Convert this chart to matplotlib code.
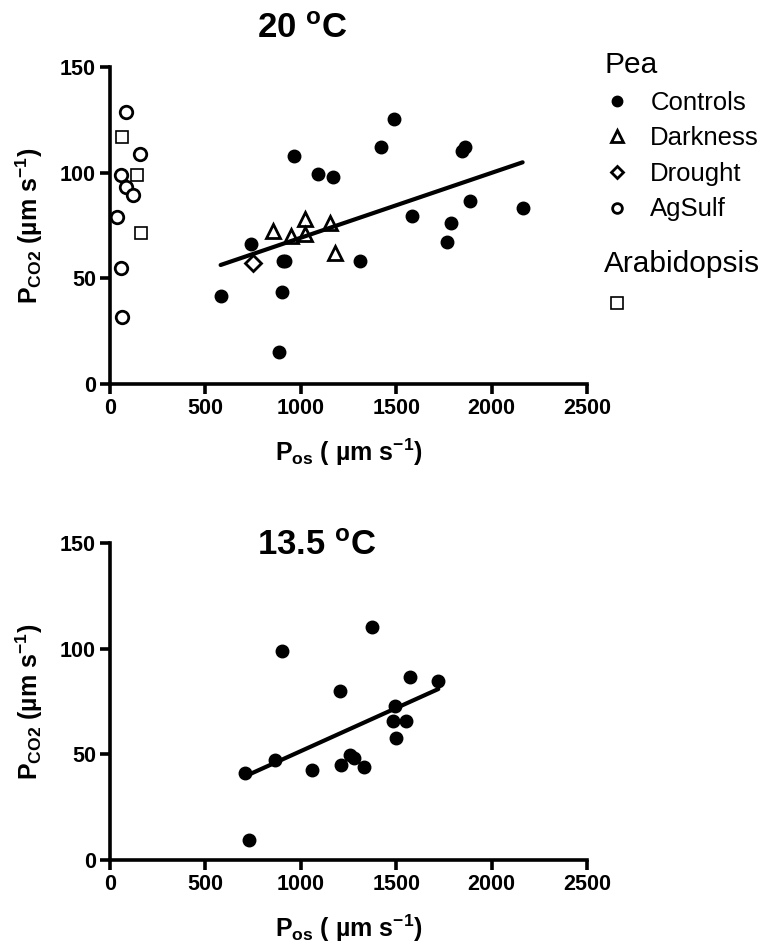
import matplotlib
matplotlib.use("Agg")
import matplotlib.pyplot as plt
from matplotlib.lines import Line2D
import numpy as np

plt.rcParams['font.family'] = ['Liberation Sans', 'DejaVu Sans']
plt.rcParams['mathtext.fontset'] = 'custom'
plt.rcParams['mathtext.rm'] = 'Liberation Sans:bold'
plt.rcParams['mathtext.it'] = 'Liberation Sans:bold'
plt.rcParams['mathtext.bf'] = 'Liberation Sans:bold'
plt.rcParams['mathtext.default'] = 'rm'

# 20 C data
ctrl20_x = [580, 737, 905, 915, 903, 886, 966, 1092, 1170, 1310, 1420, 1490, 1585, 1786, 1765, 1847, 1861, 1887, 2166]
ctrl20_y = [41.6, 66.4, 58.0, 58.4, 43.5, 15.2, 107.7, 99.4, 97.8, 58.2, 112.0, 125.5, 79.7, 76.3, 67.1, 110.4, 112.0, 86.5, 83.3]
dark_x = [856, 947, 1022, 1022, 1153, 1179]
dark_y = [72.3, 70.0, 78.2, 70.8, 76.3, 61.8]
drought_x = [748]
drought_y = [57.1]
agsulf_x = [84, 157, 56, 84, 122, 38, 56, 63]
agsulf_y = [128.9, 108.8, 99.0, 93.3, 89.6, 79.1, 55.0, 31.9]
arab_x = [61, 143, 162]
arab_y = [117.0, 98.7, 71.5]
fit20_x = [580, 2163]
fit20_y = [56.3, 104.9]

# 13.5 C data
ctrl13_x = [708, 729, 865, 900, 1057, 1205, 1211, 1258, 1279, 1333, 1372, 1494, 1485, 1550, 1497, 1572, 1721]
ctrl13_y = [41.4, 9.4, 47.2, 99.1, 42.5, 80.2, 45.1, 49.5, 48.3, 44.0, 110.4, 73.1, 65.6, 65.6, 57.7, 86.5, 84.9]
fit13_x = [708, 1721]
fit13_y = [39.6, 80.9]

xticks = [0, 500, 1000, 1500, 2000, 2500]
yticks = [0, 50, 100, 150]

fig = plt.figure(figsize=(7.68, 9.49), dpi=100)
ax1 = fig.add_axes([0.1432, 0.5954, 0.621, 0.334])
ax2 = fig.add_axes([0.1432, 0.0938, 0.621, 0.334])

def style(ax):
    ax.set_xlim(0, 2500)
    ax.set_ylim(0, 150)
    ax.set_xticks(xticks)
    ax.set_yticks(yticks)
    for s in ['top', 'right']:
        ax.spines[s].set_visible(False)
    for s in ['left', 'bottom']:
        ax.spines[s].set_linewidth(2.6)
    ax.tick_params(width=2.6, length=7, labelsize=15.5, pad=3)
    for lab in ax.get_xticklabels() + ax.get_yticklabels():
        lab.set_fontweight('bold')
    ax.set_xlabel(r"P$_{os}$ ( µm s$^{-1}$)", fontsize=18, fontweight='bold', labelpad=13)
    ax.set_ylabel(r"P$_{CO2}$ (µm s$^{-1}$)", fontsize=18, fontweight='bold', labelpad=11)

ms = 9
ax1.plot(ctrl20_x, ctrl20_y, 'o', color='black', ms=ms, clip_on=False, label='Controls')
ax1.plot(dark_x, dark_y, '^', mfc='white', mec='black', mew=2, ms=10, clip_on=False, label='Darkness')
ax1.plot(drought_x, drought_y, 'D', mfc='white', mec='black', mew=2, ms=8, clip_on=False, label='Drought')
ax1.plot(agsulf_x, agsulf_y, 'o', mfc='white', mec='black', mew=2, ms=ms, clip_on=False, label='AgSulf')
ax1.plot(arab_x, arab_y, 's', mfc='white', mec='black', mew=1.2, ms=8.5, clip_on=False)
ax1.plot(fit20_x, fit20_y, '-', color='black', lw=3, solid_capstyle='round')
style(ax1)
ax1.text(0.4025, 1.0915, r"20 $^{o}$C", transform=ax1.transAxes, ha='center', va='baseline',
         fontsize=25, fontweight='bold')

ax2.plot(ctrl13_x, ctrl13_y, 'o', color='black', ms=ms, clip_on=False)
ax2.plot(fit13_x, fit13_y, '-', color='black', lw=3, solid_capstyle='round')
style(ax2)
ax2.text(0.433, 0.962, r"13.5 $^{o}$C", transform=ax2.transAxes, ha='center', va='baseline',
         fontsize=25, fontweight='bold')

# legends
handles = [
    Line2D([], [], ls='none', marker='o', color='black', ms=7.5),
    Line2D([], [], ls='none', marker='^', mfc='white', mec='black', mew=2, ms=8),
    Line2D([], [], ls='none', marker='D', mfc='white', mec='black', mew=2, ms=6.5),
    Line2D([], [], ls='none', marker='o', mfc='white', mec='black', mew=2, ms=7),
]
leg1 = fig.legend(handles, ['Controls', 'Darkness', 'Drought', 'AgSulf'], title='Pea',
                  loc='upper left', bbox_to_anchor=(0.7865, 0.946), frameon=False,
                  fontsize=18.5, title_fontsize=21.5, handlelength=1.0, handletextpad=0.8,
                  labelspacing=0.45, alignment='left', borderaxespad=0, borderpad=0)
sq = [Line2D([], [], ls='none', marker='s', mfc='white', mec='black', mew=1.2, ms=8)]
leg2 = fig.legend(sq, [''], title='Arabidopsis', loc='upper left',
                  bbox_to_anchor=(0.7865, 0.737), frameon=False, fontsize=18.5,
                  title_fontsize=21.5, handlelength=1.0, labelspacing=0.6,
                  alignment='left', borderaxespad=0, borderpad=0)

fig.savefig('out.png', dpi=100)
